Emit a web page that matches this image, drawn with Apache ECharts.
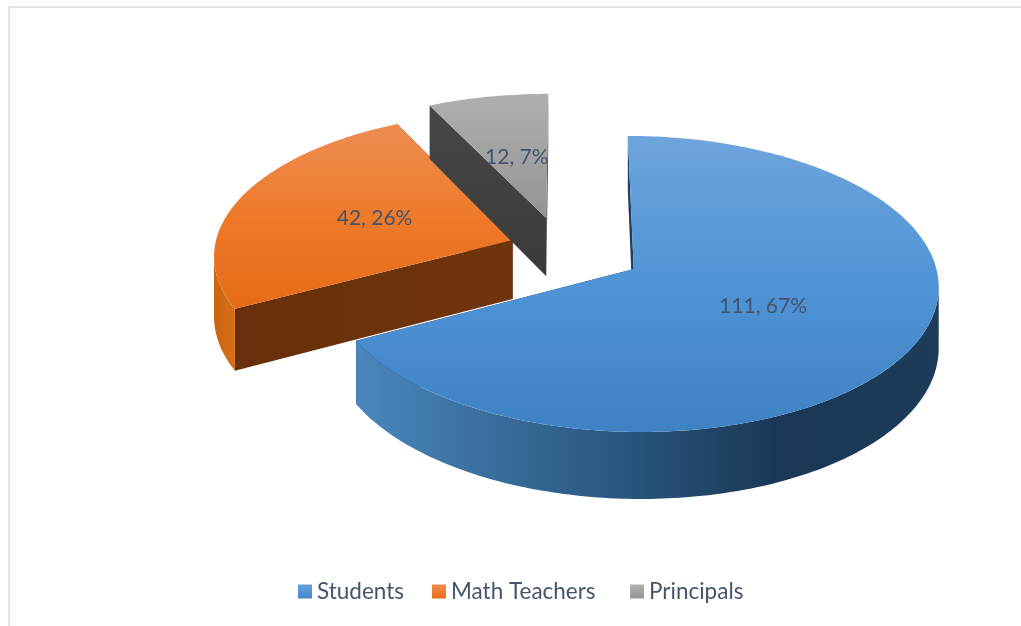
<!DOCTYPE html>
<html>
<head>
<meta charset="utf-8">
<title>Pie</title>
<script src="https://cdn.jsdelivr.net/npm/echarts@6/dist/echarts.min.js"></script>
<style>
    html, body { margin: 0; padding: 0; background: #fff; }
    #frame { position: absolute; left: 8px; top: 6px; right: 0; bottom: 0; border-left: 2px solid #e2e5e9; border-top: 2px solid #e2e5e9; }
    #chart { position: absolute; left: 0; top: 0; width: 1021px; height: 626px; }
</style>
</head>
<body>
<div id="frame"></div>
<div id="chart"></div>
<script>
// 数据
const names = ['Students', 'Math Teachers', 'Principals'];
const values = [111, 42, 12];
const percents = [67, 26, 7];

// 饼图的透视参数
const startAngle = 0;      // 第一块的起始角度，顺时针，从正上方算
const centerX = 569;
const centerY = 251.6;
const radiusX = 299;
const radiusY = 143;
const perspective = 0.1;
const thickness = 59.5;
// 每块分离出去的偏移，单位是饼的半径
const explodeU = [0.214, -0.19, -0.078];
const explodeV = [-0.12, 0.082, 0.24];
const labelRadius = [0.48, 0.5, 0.48];

const vertical = (stops) => new echarts.graphic.LinearGradient(0, 0, 0, 1, stops);
const horizontal = (stops) => new echarts.graphic.LinearGradient(0, 0, 1, 0, stops);

const topFill = [
    vertical([{ offset: 0, color: '#6fa4db' }, { offset: 0.5, color: '#4f94d6' }, { offset: 1, color: '#3f82c4' }]),
    vertical([{ offset: 0, color: '#ee8d52' }, { offset: 0.5, color: '#ee7a2a' }, { offset: 1, color: '#e56b17' }]),
    vertical([{ offset: 0, color: '#afafaf' }, { offset: 1, color: '#949494' }])
];
const sideFill = [
    horizontal([{ offset: 0, color: '#4a86bd' }, { offset: 0.45, color: '#29577f' }, { offset: 0.72, color: '#1a3856' }, { offset: 1, color: '#1d3c59' }]),
    horizontal([{ offset: 0, color: '#c96512' }, { offset: 1, color: '#d66f1c' }]),
    '#474747'
];
const wallFill = [
    '#1f4060',
    horizontal([{ offset: 0, color: '#67300a' }, { offset: 1, color: '#70340c' }]),
    vertical([{ offset: 0, color: '#474747' }, { offset: 1, color: '#3a3a3a' }])
];
const legendFill = [
    vertical([{ offset: 0, color: '#649fdc' }, { offset: 1, color: '#4488cb' }]),
    vertical([{ offset: 0, color: '#f08c4e' }, { offset: 1, color: '#ea6c17' }]),
    vertical([{ offset: 0, color: '#b0b0b0' }, { offset: 1, color: '#969696' }])
];

const total = values.reduce((a, b) => a + b, 0);

// 把饼面上的点投影到屏幕，depth 是厚度方向的比例
function project(u, v, depth) {
    const w = 1 + perspective * v;
    return [
        centerX + radiusX * u / w,
        centerY - radiusY * v / w + depth * thickness / w
    ];
}

function sliceAngles(index) {
    let sum = 0;
    for (let i = 0; i < index; i++) {
        sum += values[i];
    }
    return {
        from: startAngle + sum / total * 360,
        to: startAngle + (sum + values[index]) / total * 360
    };
}

function renderSlice(index) {
    const range = sliceAngles(index);

    const onDisc = (deg, r, depth) => {
        const a = deg * Math.PI / 180;
        return project(explodeU[index] + r * Math.sin(a), explodeV[index] + r * Math.cos(a), depth);
    };

    // 外圈弧线上的角度
    const steps = Math.ceil(range.to - range.from);
    const arcAngles = [];
    for (let i = 0; i <= steps; i++) {
        arcAngles.push(range.from + (range.to - range.from) * i / steps);
    }
    // 只有朝向观察者的那段弧才有侧面
    const frontAngles = arcAngles.filter((deg) => Math.cos(deg * Math.PI / 180) <= -perspective * 1.2);

    const topArc = arcAngles.map((deg) => onDisc(deg, 1, 0));
    const frontTop = frontAngles.map((deg) => onDisc(deg, 1, 0));
    const frontBottom = frontAngles.map((deg) => onDisc(deg, 1, 1)).reverse();

    const wall = (deg) => [onDisc(deg, 0, 0), onDisc(deg, 1, 0), onDisc(deg, 1, 1), onDisc(deg, 0, 1)];
    const labelPos = onDisc((range.from + range.to) / 2, labelRadius[index], 0);

    const children = [
        { type: 'polygon', shape: { points: wall(range.to) }, style: { fill: wallFill[index] } },
        { type: 'polygon', shape: { points: wall(range.from) }, style: { fill: wallFill[index] } }
    ];
    if (frontAngles.length > 1) {
        children.push({ type: 'polygon', shape: { points: frontTop.concat(frontBottom) }, style: { fill: sideFill[index] } });
    }
    children.push({ type: 'polygon', shape: { points: [onDisc(0, 0, 0)].concat(topArc) }, style: { fill: topFill[index] } });
    children.push({
        type: 'text',
        z2: 10,
        style: {
            text: values[index] + ', ' + percents[index] + '%',
            x: labelPos[0],
            y: labelPos[1],
            fill: '#44546a',
            font: '21px Lato',
            textAlign: 'center',
            verticalAlign: 'middle'
        }
    });

    return { type: 'group', children: children };
}

const chart = echarts.init(document.getElementById('chart'));

const legendBase = {
    top: 580,
    padding: 0,
    icon: 'rect',
    itemWidth: 14,
    itemHeight: 14,
    itemGap: 28,
    selectedMode: false,
    textStyle: { color: '#44546a', fontFamily: 'Lato', fontSize: 22.5 }
};

chart.setOption({
    animation: false,
    legend: [
        Object.assign({}, legendBase, { left: 298, data: names.slice(0, 2) }),
        Object.assign({}, legendBase, { left: 630, data: names.slice(2) })
    ],
    series: names.map((name, index) => ({
        type: 'custom',
        name: name,
        coordinateSystem: 'none',
        silent: true,
        itemStyle: { color: legendFill[index] },
        data: [values[index]],
        renderItem: () => renderSlice(index)
    }))
});
</script>
</body>
</html>
